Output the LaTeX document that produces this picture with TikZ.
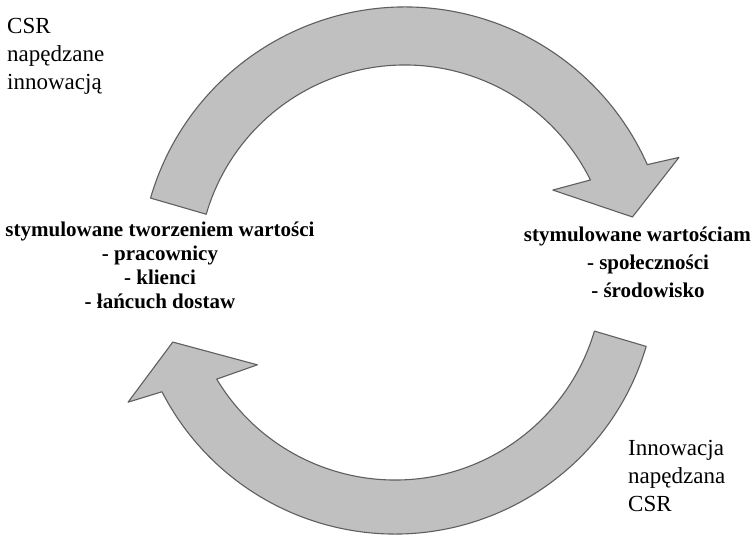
\documentclass[tikz,border=0pt]{standalone}
\usepackage{fontspec}
\setmainfont{Liberation Serif}
\usetikzlibrary{calc}
\definecolor{arrowgray}{RGB}{192,192,192}
\definecolor{edgegray}{RGB}{95,95,95}

\begin{document}
\begin{tikzpicture}[x=1pt,y=1pt,
    bigarrow/.style={fill=arrowgray,draw=edgegray,line width=1.1pt,line join=round},
    cornertext/.style={font=\fontsize{23}{28}\selectfont,align=left,inner sep=0pt},
    valuetext/.style={font=\fontsize{21}{24}\selectfont\bfseries,align=center,inner sep=0pt}]
  \useasboundingbox (0,0) rectangle (752,536);

  \coordinate (topc) at (405,264);
  \coordinate (botc) at (395,264);

  % upper arrow, left to right
  \draw[bigarrow] ($(topc)+(163.8:265)$) arc[start angle=163.8,end angle=23.9,radius=265]
    -- ($(topc)+(22.7:297)$) -- ($(topc)+(13.6:234)$) -- ($(topc)+(29:169)$)
    -- ($(topc)+(26.4:207)$) arc[start angle=26.4,end angle=163.8,radius=207] -- cycle;

  % lower arrow, right to left
  \draw[bigarrow] ($(botc)+(-16.5:262)$) arc[start angle=-16.5,end angle=-152.8,radius=262]
    -- ($(botc)+(-154:297)$) -- ($(botc)+(-162.5:233)$) -- ($(botc)+(-146:166)$)
    -- ($(botc)+(-149:208)$) arc[start angle=-149,end angle=-16.5,radius=208] -- cycle;

  \node[cornertext,anchor=north west] (csrinno) at (7,518) {CSR\\napędzane\\innowacją};
  \node[cornertext,anchor=north west] (innocsr) at (628,96) {Innowacja\\napędzana\\CSR};

  \node[valuetext,anchor=north] (creating) at (160,314.5)
    {stymulowane tworzeniem wartości\\- pracownicy\\- klienci\\- łańcuch dostaw};
  \node[valuetext,anchor=north east] (driven) at (751,309.5) {stymulowane wartościam};
  \node[valuetext,anchor=north,font=\fontsize{21}{28}\selectfont\bfseries] (drivenlist) at (648,281.5)
    {- społeczności\\- środowisko};
\end{tikzpicture}
\end{document}
